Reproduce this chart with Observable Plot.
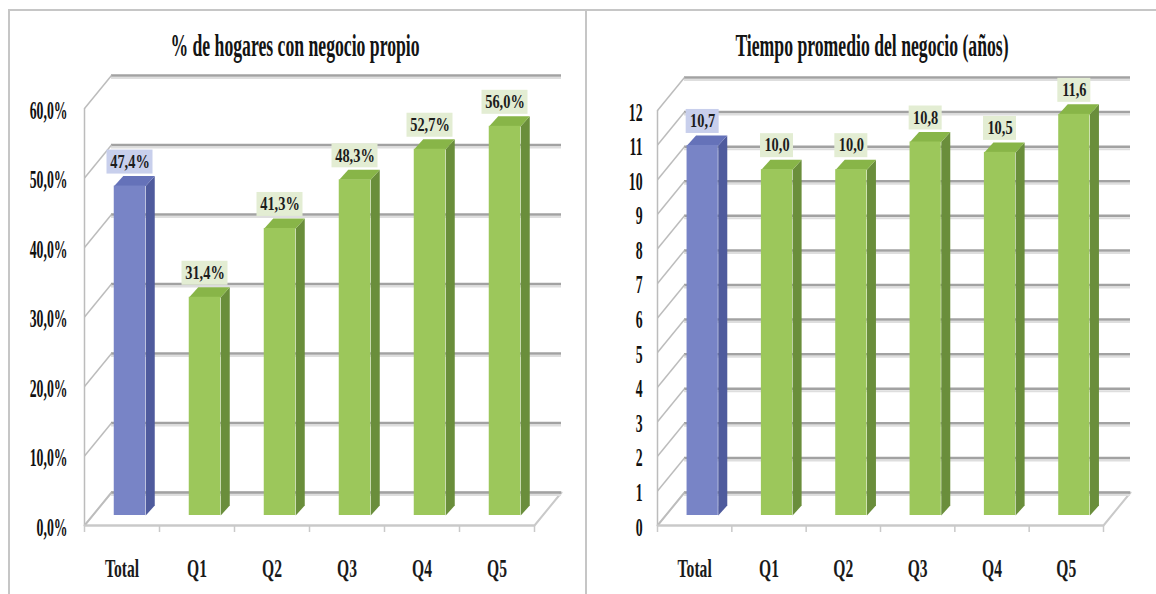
<!DOCTYPE html>
<html>
<head>
<meta charset="utf-8">
<script src="https://cdn.jsdelivr.net/npm/d3@7"></script>
<script src="https://cdn.jsdelivr.net/npm/@observablehq/plot@0.6"></script>
<style>
  html, body { margin: 0; padding: 0; background: #fff; }
  #page { position: relative; width: 1156px; height: 594px; overflow: hidden; background: #fff;
          font-family: "Liberation Serif", "Times New Roman", serif; }
  .rule-h { position: absolute; left: 8px; top: 9px; width: 1148px; border-top: 2px solid #c6c6c6; }
  .rule-v { position: absolute; top: 10px; height: 584px; border-left: 2px solid #c6c6c6; }
  .title { position: absolute; top: 30px; font-weight: bold; font-size: 31px; line-height: 31px;
           white-space: nowrap; color: #141414; transform: translateX(-50%) scaleX(0.57); }
  .panel { position: absolute; top: 60px; }
  .panel svg { display: block; overflow: visible; }
</style>
</head>
<body>
<div id="page">
  <div class="rule-h"></div>
  <div class="rule-v" style="left:8px"></div>
  <div class="rule-v" style="left:585px"></div>
  <div class="title" style="left:295px">% de hogares con negocio propio</div>
  <div class="title" style="left:872px">Tiempo promedio del negocio (años)</div>
  <div id="left" class="panel" style="left:0px"></div>
  <div id="right" class="panel" style="left:577px"></div>
</div>
<script>
// Categories (household income quintiles) shared by both charts
const categories = ["Total", "Q1", "Q2", "Q3", "Q4", "Q5"];

// % of households with their own business
const hogaresPct = [47.4, 31.4, 41.3, 48.3, 52.7, 56.0];
const hogaresLabels = ["47,4%", "31,4%", "41,3%", "48,3%", "52,7%", "56,0%"];
const hogaresTicks = [0, 10, 20, 30, 40, 50, 60];
const hogaresTickLabels = ["0,0%", "10,0%", "20,0%", "30,0%", "40,0%", "50,0%", "60,0%"];

// Average age of the business (years)
const tiempoAnios = [10.7, 10.0, 10.0, 10.8, 10.5, 11.6];
const tiempoLabels = ["10,7", "10,0", "10,0", "10,8", "10,5", "11,6"];
const tiempoTicks = [0, 1, 2, 3, 4, 5, 6, 7, 8, 9, 10, 11, 12];
const tiempoTickLabels = ["0", "1", "2", "3", "4", "5", "6", "7", "8", "9", "10", "11", "12"];

const FONT = '"Liberation Serif", "Times New Roman", serif';
const COLORS = {
  blueFront: "#7884c6", blueSide: "#4f5b9d", blueTop: "#6572b9", blueBox: "#c8cfec",
  greenFront: "#9cc75b", greenSide: "#6a8e3b", greenTop: "#88b548", greenBox: "#e3edd3",
  grid: "#a2a2a2", gridShadow: "#dedede", wall: "#bcbcbc", floor: "#c9c9c9"
};
// horizontal squeeze applied to each text size (narrow serif lettering)
const SQUEEZE = {18: 0.8, 25: 0.55, 26: 0.6};

function drawPanel({values, labels, ticks, tickLabels, yMax, width, marginLeft, marginRight, marginTop, boxW, tickDx}) {
  const height = 534, marginBottom = 69;
  const n = categories.length;
  const pxX = (width - marginLeft - marginRight) / n;
  const pxY = (height - marginBottom - marginTop) / yMax;
  const ux = (px) => px / pxX;
  const uy = (px) => px / pxY;

  // 3-D box geometry: floor depth, bar set-back and bar depth (pixels → data units)
  const floorX = ux(27), floorY = uy(33);
  const setX = 8, setY = -10;
  const barDX = ux(9), barDY = uy(10);
  const half = 0.21;

  const rows = categories.map((cat, i) => ({cat, i, v: values[i], label: labels[i], total: i === 0}));
  const poly = (r, pts) => pts.map(([x, y]) => ({x, y, i: r.i, total: r.total}));
  const sides = rows.flatMap((r) => {
    const xr = r.i + 0.5 + half;
    return poly(r, [[xr, 0], [xr, r.v], [xr + barDX, r.v + barDY], [xr + barDX, barDY]]);
  });
  const tops = rows.flatMap((r) => {
    const xl = r.i + 0.5 - half, xr = r.i + 0.5 + half;
    return poly(r, [[xl, r.v], [xr, r.v], [xr + barDX, r.v + barDY], [xl + barDX, r.v + barDY]]);
  });
  const floor = [[0, 0], [n, 0], [n + floorX, floorY], [floorX, floorY], [0, 0]].map(([x, y]) => ({x, y}));

  const isT = (d) => d.total, notT = (d) => !d.total;
  const boxH = 24, lift = 24;

  const svg = Plot.plot({
    width, height, marginLeft, marginRight, marginTop, marginBottom,
    x: {domain: [0, n], axis: null},
    y: {domain: [0, yMax], axis: null},
    style: {fontFamily: FONT, background: "transparent", overflow: "visible"},
    marks: [
      // floor of the 3-D box
      Plot.line(floor, {x: "x", y: "y", fill: "white", stroke: COLORS.floor, strokeWidth: 2}),
      // back wall gridlines
      Plot.ruleY(ticks, {y: (d) => d + floorY, x1: floorX, x2: n + floorX, dy: 2.5, stroke: COLORS.gridShadow, strokeWidth: 2}),
      Plot.ruleY(ticks, {y: (d) => d + floorY, x1: floorX, x2: n + floorX, stroke: COLORS.grid, strokeWidth: 2.5}),
      // side wall gridlines
      Plot.link(ticks, {x1: 0, y1: (d) => d, x2: floorX, y2: (d) => d + floorY, stroke: COLORS.wall, strokeWidth: 1.5}),
      Plot.ruleX([0], {y1: 0, y2: yMax, stroke: COLORS.wall, strokeWidth: 1.5}),
      // category ticks under the floor edge
      Plot.ruleX(d3.range(n + 1), {y1: 0, y2: -uy(7), stroke: COLORS.floor, strokeWidth: 1.5}),
      Plot.ruleY([0], {x1: 0, x2: n, stroke: COLORS.floor, strokeWidth: 2}),
      // bar side faces
      Plot.line(sides.filter(isT), {x: "x", y: "y", z: "i", fill: COLORS.blueSide, stroke: "none", dx: setX, dy: setY}),
      Plot.line(sides.filter(notT), {x: "x", y: "y", z: "i", fill: COLORS.greenSide, stroke: "none", dx: setX, dy: setY}),
      // bar top faces
      Plot.line(tops.filter(isT), {x: "x", y: "y", z: "i", fill: COLORS.blueTop, stroke: "none", dx: setX, dy: setY}),
      Plot.line(tops.filter(notT), {x: "x", y: "y", z: "i", fill: COLORS.greenTop, stroke: "none", dx: setX, dy: setY}),
      // bar front faces
      Plot.rect(rows, {x1: (d) => d.i + 0.5 - half, x2: (d) => d.i + 0.5 + half, y1: 0, y2: "v",
        fill: (d) => d.total ? COLORS.blueFront : COLORS.greenFront, dx: setX, dy: setY}),
      // value labels with their boxes
      Plot.rect(rows, {x1: (d) => d.i + 0.5 - ux(boxW / 2), x2: (d) => d.i + 0.5 + ux(boxW / 2),
        y1: (d) => d.v + uy(lift - boxH / 2), y2: (d) => d.v + uy(lift + boxH / 2),
        fill: (d) => d.total ? COLORS.blueBox : COLORS.greenBox, dx: setX, dy: setY}),
      Plot.text(rows, {x: (d) => d.i + 0.5, y: "v", text: "label", dx: setX, dy: setY - lift,
        fontSize: 18, fontWeight: "bold", fill: "#1c1c1c"}),
      // value axis labels
      Plot.text(ticks, {x: 0, y: (d) => d, text: (d, i) => tickLabels[i], textAnchor: "end", dx: tickDx, dy: 2,
        fontSize: 25, fontWeight: "bold", fill: "#111"}),
      // category labels
      Plot.text(rows, {x: (d) => d.i + 0.5, y: 0, text: "cat", dy: 43, fontSize: 26, fontWeight: "bold", fill: "#1a1a1a"})
    ],
    color: {type: "identity"}
  });

  // narrow the lettering around each label's anchor point
  for (const t of svg.querySelectorAll("text")) {
    const holder = t.closest("[font-size]");
    const fs = holder ? parseFloat(holder.getAttribute("font-size")) : 18;
    const s = SQUEEZE[fs] || 1;
    const x = +t.getAttribute("x") || 0, y = +t.getAttribute("y") || 0;
    const tr = t.getAttribute("transform") || "";
    t.setAttribute("transform", `${tr} translate(${x},${y}) scale(${s},1) translate(${-x},${-y})`);
  }
  return svg;
}

document.getElementById("left").appendChild(drawPanel({
  values: hogaresPct, labels: hogaresLabels, ticks: hogaresTicks, tickLabels: hogaresTickLabels,
  yMax: 60, width: 580, marginLeft: 84, marginRight: 46, marginTop: 48, boxW: 46, tickDx: -17
}));
document.getElementById("right").appendChild(drawPanel({
  values: tiempoAnios, labels: tiempoLabels, ticks: tiempoTicks, tickLabels: tiempoTickLabels,
  yMax: 12, width: 579, marginLeft: 80, marginRight: 53, marginTop: 50, boxW: 33, tickDx: -15
}));
</script>
</body>
</html>
